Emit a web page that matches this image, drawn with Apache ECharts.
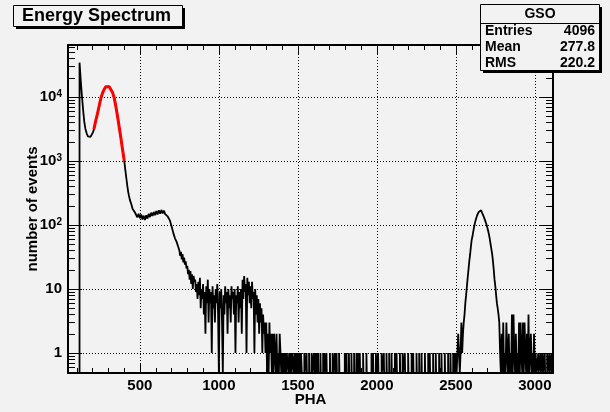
<!DOCTYPE html>
<html><head><meta charset="utf-8">
<script src="https://cdn.jsdelivr.net/npm/echarts@6/dist/echarts.min.js"></script>
<style>html,body{margin:0;padding:0;background:#f2f2f2}#c{width:610px;height:412px}</style>
</head><body><div id="c"></div>
<script>
// ---- axis ranges and tick labels ----
const X_MIN = 45, X_MAX = 3115;
const Y_MIN = 0.487, Y_MAX = 64900;
const xTickLabels = [500, 1000, 1500, 2000, 2500, 3000];

// ---- histogram: smooth low-energy part (PHA, counts) ----
const smoothPHA = [118,121,124,127,132,137,142,148,155,163,171,179,187,196,203,209,220,232,243,253,264,274,285,296,306,316,327,338,348,359,369,380,390,401,408,416,421,426,431,437,445,454,461,468,476,484,492,500,508,516,524,532,540,548,556,564,572,580,588,596,604,612,620,628,636,644,652,660,668,676,684,690,696,701,706,711,716,722,727,732,737,742,746,750];
const smoothCounts = [34400,27000,21000,16400,11300,8050,5800,4110,3200,2710,2420,2310,2380,2550,2800,3130,4200,5560,7400,9550,11600,13200,14500,14900,14500,13700,11800,9550,7100,4900,3400,2260,1520,1010,720,500,400,330,285,245,215,178,174,158,152,132,150,128,146,122,140,120,142,126,150,133,156,138,160,142,165,146,170,150,172,152,168,148,158,136,138,118,114,95,94,76,78,62,66,55,57,46,48,40];

// ---- noisy region, 5-channel bins starting at 750 ----
const noisyStart = 750, noisyWidth = 5;
const noisyCounts = [
 40,33,38,29,35,26,31,24,27,21,
 23,17,20,14,19,12,17,10,16,13,
 14,9,12,7,13,8,15,5,10,7,
 12,4,9,2,11,6,14,3,10,6,
 9,1,11,5,8,3,10,6,12,4,
 0,9,5,10,3,0,8,4,11,6,
 9,2,10,5,8,3,11,7,9,4,
 10,1,8,6,11,3,9,5,10,2,
 14,7,16,9,12,1,15,8,13,6,
 11,5,13,7,9,1,10,4,8,3,
 7,2,6,3,5,1,4,2,3,1,
 3,0,2,0,3,1,2,0,2,0,
 2,1,0,2,0,1,0,2,1,0,
 1,0,1,0,1,0,1,1,0,1,
 0,1,0,1,1,0,1,0,1,0,
 1,0,1,0,1,0];

// ---- isolated single-count channels between the regions ----
const singlesPHA = [1541,1555,1571,1587,1601,1610,1618,1628,1643,1660,1668,1681,1703,1720,1734,1740,1745,1761,1797,1808,1823,1839,1856,1871,1880,1892,1913,1934,1966,1976,1994,2008,2030,2044,2061,2078,2093,2114,2125,2146,2163,2177,2198,2220,2230,2251,2268,2283,2304,2325,2335,2356,2373,2394,2409,2430,2451,2466,2483,2492];

// ---- high-energy peak region, 5-channel bins starting at 2500 ----
const peakStart = 2500, peakWidth = 5;
const peakCounts = [
 1,0,1,2,1,0,1,3,1,2,
 3,4,6,8,11,15,20,27,34,45,
 58,66,78,92,105,118,130,142,152,160,
 165,170,166,158,148,138,128,118,110,100,
 90,80,70,60,50,42,35,27,20,14,
 11,8,6,5,4,3,1,0,2,0,
 3,0,1,0,3,1,0,2,0,1,
 0,4,0,4,1,0,2,0,1,0,
 3,0,3,1,0,3,0,3,1,0,
 2,0,4,0,1,2,0,1,0,2,
 0,1];
const tailSinglesPHA = [3022,3036,3049,3063,3078,3092,3106];

// ---- red fit curve ----
const fitPHA = [209,220,232,243,253,264,274,285,296,306,316,327,338,348,359,369,380,390,401];
const fitCounts = [3130,4200,5560,7400,9550,11600,13200,14500,14900,14500,13700,11800,9550,7100,4900,3400,2260,1520,1010];

// ---- stats box ----
const statsTitle = 'GSO';
const statsNames = ['Entries', 'Mean', 'RMS'];
const statsValues = ['4096', '277.8', '220.2'];
const chartTitle = 'Energy Spectrum';

// ---- build histogram outline ----
const FLOOR = Y_MIN;
const lv = c => (c > 0 ? c : FLOOR);
const hist = [];
hist.push([X_MIN, FLOOR], [smoothPHA[0], FLOOR]);
smoothPHA.forEach((x, i) => hist.push([x, smoothCounts[i]]));
noisyCounts.forEach((c, i) => {
  const lo = noisyStart + i * noisyWidth;
  hist.push([lo, lv(c)], [lo + noisyWidth, lv(c)]);
});
hist.push([noisyStart + noisyCounts.length * noisyWidth, FLOOR]);
singlesPHA.forEach(x => hist.push([x, FLOOR], [x, 1], [x + 2, 1], [x + 2, FLOOR]));
hist.push([peakStart, FLOOR]);
peakCounts.forEach((c, i) => {
  const lo = peakStart + i * peakWidth;
  hist.push([lo, lv(c)], [lo + peakWidth, lv(c)]);
});
hist.push([peakStart + peakCounts.length * peakWidth, FLOOR]);
tailSinglesPHA.forEach(x => hist.push([x, FLOOR], [x, 1], [x + 2, 1], [x + 2, FLOOR]));
hist.push([X_MAX, FLOOR]);

// minor tick positions (axis decoration)
const yMinor = [];
for (let e = -1; e <= 4; e++) for (let k = 2; k <= 9; k++) {
  const v = k * Math.pow(10, e);
  if (v > Y_MIN && v < Y_MAX) yMinor.push([X_MIN, v]);
}
const xMinor = [];
for (let v = 100; v < X_MAX; v += 100) if (v % 500 !== 0 && v > X_MIN) xMinor.push([v, Y_MIN]);

const FONT = 'Liberation Sans';
const BG = '#f2f2f2';
const chart = echarts.init(document.getElementById('c'), null, {renderer: 'canvas'});
chart.setOption({
  backgroundColor: BG,
  animation: false,
  grid: {left: 68, right: 57, top: 45, bottom: 39, containLabel: false, outerBoundsMode: 'none'},
  xAxis: [{
    type: 'value', min: X_MIN, max: X_MAX, position: 'bottom',
    axisLine: {show: true, onZero: false, lineStyle: {color: '#000', width: 2}},
    axisTick: {show: true, inside: true, length: 10, customValues: xTickLabels, lineStyle: {color: '#000', width: 1}},
    axisLabel: {show: true, customValues: xTickLabels, margin: 5, color: '#000', fontSize: 15, fontWeight: 'bold', fontFamily: FONT,
      formatter: v => String(v)},
    splitLine: {show: true, lineStyle: {color: '#000', type: [1, 2], width: 1}},
    name: 'PHA', nameLocation: 'middle', nameGap: 19, nameMoveOverlap: false,
    nameTextStyle: {color: '#000', fontSize: 15, fontWeight: 'bold', fontFamily: FONT}
  }, {
    type: 'value', min: X_MIN, max: X_MAX, position: 'top',
    axisLine: {show: true, onZero: false, lineStyle: {color: '#000', width: 2}},
    axisTick: {show: true, inside: true, length: 10, customValues: xTickLabels, lineStyle: {color: '#000', width: 1}},
    axisLabel: {show: false}, splitLine: {show: false}
  }],
  yAxis: [{
    type: 'log', logBase: 10, min: Y_MIN, max: Y_MAX, position: 'left',
    axisLine: {show: true, onZero: false, lineStyle: {color: '#000', width: 2}},
    axisTick: {show: true, inside: true, length: 14, lineStyle: {color: '#000', width: 1}},
    axisLabel: {
      show: true, margin: 6, color: '#000', fontFamily: FONT, fontWeight: 'bold', fontSize: 15,
      formatter: function (v) {
        const e = Math.log10(v);
        const r = Math.round(e);
        if (Math.abs(e - r) > 1e-6) return '';
        if (r === 0) return '{b|1}';
        if (r === 1) return '{b|10}';
        return '{b|10}{s|' + r + '}';
      },
      rich: {
        b: {fontSize: 15, fontWeight: 'bold', fontFamily: FONT, color: '#000', verticalAlign: 'bottom', lineHeight: 15},
        s: {fontSize: 10, fontWeight: 'bold', fontFamily: FONT, color: '#000', verticalAlign: 'top', lineHeight: 12, padding: [0, 0, 7, 0]}
      }
    },
    splitLine: {show: true, lineStyle: {color: '#000', type: [1, 2], width: 1}},
    name: 'number of events', nameLocation: 'middle', nameGap: 28, nameRotate: 90, nameMoveOverlap: false,
    nameTextStyle: {color: '#000', fontSize: 15, fontWeight: 'bold', fontFamily: FONT}
  }, {
    type: 'log', logBase: 10, min: Y_MIN, max: Y_MAX, position: 'right',
    axisLine: {show: true, onZero: false, lineStyle: {color: '#000', width: 2}},
    axisTick: {show: true, inside: true, length: 14, lineStyle: {color: '#000', width: 1}},
    axisLabel: {show: false}, splitLine: {show: false}
  }],
  series: [{
    type: 'line', name: 'hist', xAxisIndex: 0, yAxisIndex: 0, data: hist,
    showSymbol: false, symbol: 'none', clip: true, z: 3, silent: true,
    lineStyle: {color: '#000', width: 1.8, join: 'bevel'}
  }, {
    type: 'line', name: 'fit', xAxisIndex: 0, yAxisIndex: 0,
    data: fitPHA.map((x, i) => [x, fitCounts[i]]),
    showSymbol: false, symbol: 'none', clip: true, z: 4, silent: true,
    lineStyle: {color: '#ff0000', width: 3}
  }, {
    type: 'custom', xAxisIndex: 0, yAxisIndex: 0, data: yMinor, clip: false, silent: true, z: 5,
    renderItem: function (params, api) {
      const p = api.coord([api.value(0), api.value(1)]);
      const cs = params.coordSys;
      const y = Math.round(p[1]) + 0.5;
      return {type: 'group', children: [
        {type: 'line', shape: {x1: cs.x, y1: y, x2: cs.x + 7, y2: y}, style: {stroke: '#000', lineWidth: 1}},
        {type: 'line', shape: {x1: cs.x + cs.width, y1: y, x2: cs.x + cs.width - 7, y2: y}, style: {stroke: '#000', lineWidth: 1}}
      ]};
    }
  }, {
    type: 'custom', xAxisIndex: 0, yAxisIndex: 0, data: xMinor, clip: false, silent: true, z: 5,
    renderItem: function (params, api) {
      const p = api.coord([api.value(0), api.value(1)]);
      const cs = params.coordSys;
      const x = Math.round(p[0]) + 0.5;
      return {type: 'group', children: [
        {type: 'line', shape: {x1: x, y1: cs.y + cs.height, x2: x, y2: cs.y + cs.height - 5}, style: {stroke: '#000', lineWidth: 1}},
        {type: 'line', shape: {x1: x, y1: cs.y, x2: x, y2: cs.y + 5}, style: {stroke: '#000', lineWidth: 1}}
      ]};
    }
  }],
  graphic: [
    {type: 'rect', z: 100, shape: {x: 16, y: 8, width: 169, height: 21}, style: {fill: '#000'}},
    {type: 'rect', z: 101, shape: {x: 13.5, y: 5.5, width: 169, height: 21}, style: {fill: BG, stroke: '#000', lineWidth: 1}},
    {type: 'text', z: 102, style: {text: chartTitle, x: 22, y: 16.5, verticalAlign: 'middle', align: 'left', font: 'bold 18px "Liberation Sans"', fill: '#000'}},
    {type: 'rect', z: 100, shape: {x: 483, y: 7, width: 119, height: 66}, style: {fill: '#000'}},
    {type: 'rect', z: 101, shape: {x: 480.5, y: 4.5, width: 119, height: 66}, style: {fill: BG, stroke: '#000', lineWidth: 1}},
    {type: 'line', z: 102, shape: {x1: 480.5, y1: 23.5, x2: 599.5, y2: 23.5}, style: {stroke: '#000', lineWidth: 1}},
    {type: 'text', z: 102, style: {text: statsTitle, x: 540, y: 14, align: 'center', verticalAlign: 'middle', font: 'bold 14px "Liberation Sans"', fill: '#000'}}
  ].concat(statsNames.map((n, i) => ({type: 'text', z: 102, style: {text: n, x: 485, y: 31 + i * 16, align: 'left', verticalAlign: 'middle', font: 'bold 14px "Liberation Sans"', fill: '#000'}})))
   .concat(statsValues.map((v, i) => ({type: 'text', z: 102, style: {text: v, x: 595, y: 31 + i * 16, align: 'right', verticalAlign: 'middle', font: 'bold 14px "Liberation Sans"', fill: '#000'}})))
});
</script></body></html>
